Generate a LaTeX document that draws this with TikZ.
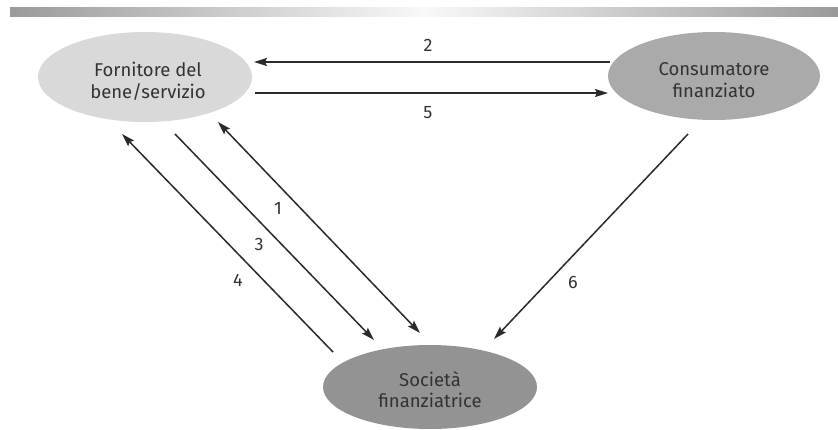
\documentclass[tikz,border=0pt]{standalone}
\usepackage{fontspec}
\setmainfont{Fira Sans}
\usetikzlibrary{shapes.geometric,arrows.meta}
\definecolor{txt}{HTML}{333333}
\definecolor{arr}{HTML}{2A2A2A}
\definecolor{fillA}{HTML}{D9D9D9}
\definecolor{fillB}{HTML}{AAAAAA}
\definecolor{fillC}{HTML}{939393}
\definecolor{barC}{HTML}{9A9A9A}
\tikzset{
  actor/.style={ellipse, draw=none, inner sep=0pt, minimum width=214pt, minimum height=90pt,
    text=txt, align=center, font=\fontsize{18.5}{22}\selectfont},
  flow/.style={draw=arr, line width=1.5pt, -{Stealth[length=13pt,width=8pt,inset=2pt]}},
  bothflow/.style={draw=arr, line width=1.5pt, {Stealth[length=13pt,width=8pt,inset=2pt]}-{Stealth[length=13pt,width=8pt,inset=2pt]}},
  num/.style={text=txt, font=\fontsize{18}{20}\selectfont, inner sep=0pt}
}
\begin{document}
\begin{tikzpicture}[x=1pt,y=-1pt]
\useasboundingbox (0,0) rectangle (838,429);
\fill[white] (0,0) rectangle (838,429);
% top bar
\shade[left color=barC, right color=barC, middle color=white!95!gray] (10,7) rectangle (838,16);
% nodes
\node[actor, fill=fillA] (F) at (145,77) {};
\node[text=txt, align=center, font=\fontsize{18.5}{22}\selectfont, inner sep=0pt] (Ft) at (148,81) {Fornitore del\\bene/servizio};
\node[actor, fill=fillB, minimum width=212pt, minimum height=88pt] (C) at (714,76) {};
\node[text=txt, align=center, font=\fontsize{18.5}{22}\selectfont, inner sep=0pt] (Ct) at (714,80) {Consumatore\\finanziato};
\node[actor, fill=fillC, minimum height=84pt] (S) at (430,387) {};
\node[text=txt, align=center, font=\fontsize{18.5}{21}\selectfont, inner sep=0pt] (St) at (430,390) {Società\\finanziatrice};
% connector endpoints
\coordinate (c2s) at (610,62);  \coordinate (c2e) at (254,62);
\coordinate (c5s) at (255,93);  \coordinate (c5e) at (608,93);
\coordinate (c4s) at (333,352); \coordinate (c4e) at (122,134);
\coordinate (c3s) at (175,134); \coordinate (c3e) at (374,340);
\coordinate (c1s) at (218,122); \coordinate (c1e) at (420,333);
\coordinate (c6s) at (688,134); \coordinate (c6e) at (494,339);
% connectors
\draw[flow] (c2s) -- (c2e);
\draw[flow] (c5s) -- (c5e);
\draw[flow] (c4s) -- (c4e);
\draw[flow] (c3s) -- (c3e);
\draw[bothflow] (c1s) -- (c1e);
\draw[flow] (c6s) -- (c6e);
% labels
\node[num] (n2) at (428,45) {2};
\node[num] (n5) at (428,113) {5};
\node[num] (n1) at (278,208) {1};
\node[num] (n3) at (259,244) {3};
\node[num] (n4) at (238,280) {4};
\node[num] (n6) at (573,282) {6};
\end{tikzpicture}
\end{document}
